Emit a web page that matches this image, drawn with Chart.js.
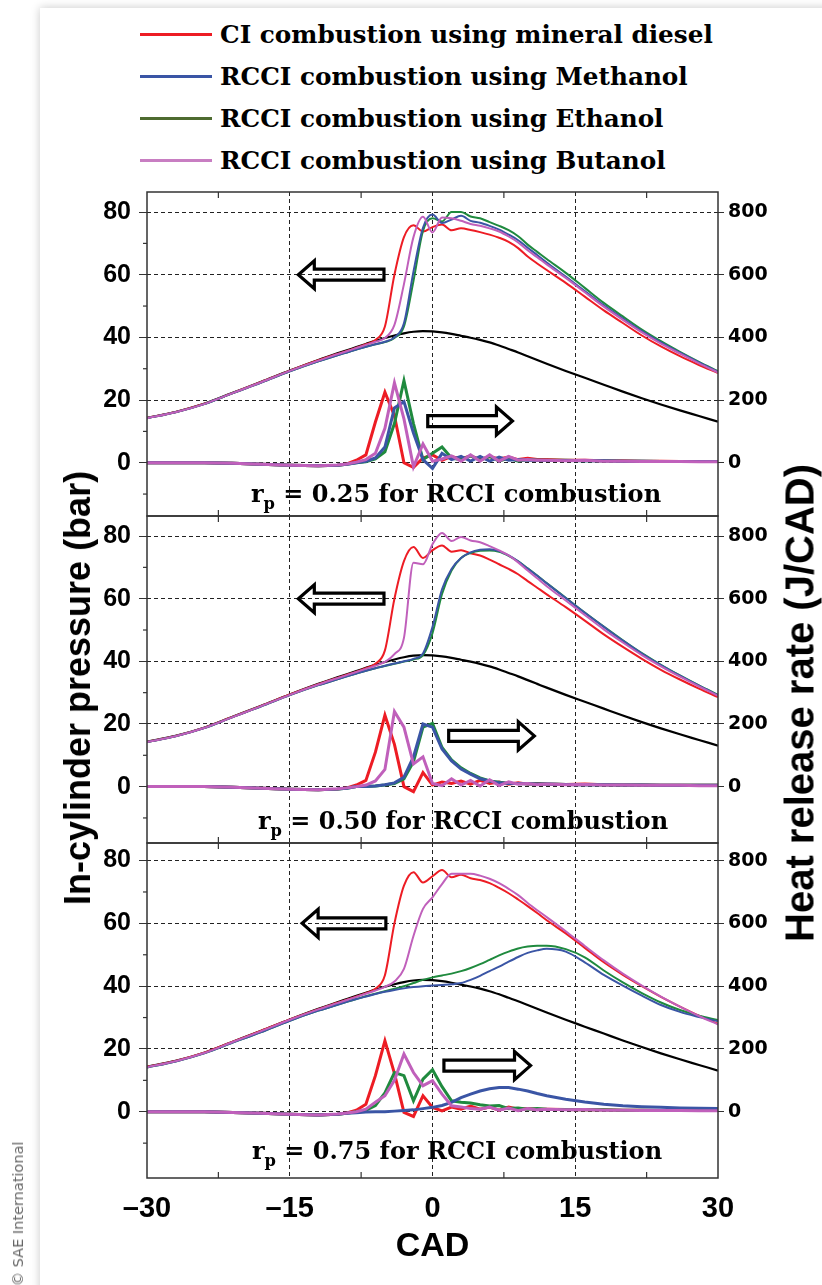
<!DOCTYPE html>
<html lang="en">
<head>
<meta charset="UTF-8">
<title>In-cylinder pressure and heat release rate</title>
<script src="https://cdn.jsdelivr.net/npm/chart.js@4.4.1/dist/chart.umd.min.js"></script>
<style>
  body { margin: 0; width: 822px; height: 1285px; position: relative; overflow: hidden; background: #fff; font-family: 'Liberation Sans', Arial, sans-serif; }
  .card { position: absolute; left: 40px; top: 8px; width: 820px; height: 1300px; background: #fff; box-shadow: 0 0 9px rgba(0,0,0,0.22); }
  .panel { position: absolute; left: 0; }
  .row { position: absolute; left: 140px; height: 40px; display: flex; align-items: center; }
  .swatch { width: 72px; height: 3px; margin-right: 8px; }
  .row span { font: bold 24.7px 'DejaVu Serif', serif; color: #000; white-space: nowrap; }
  .rp { position: absolute; width: 600px; text-align: center; font: bold 24px 'DejaVu Serif', serif; line-height: 24px; color: #000; white-space: nowrap; }
  .rp sub { font-size: 0.68em; vertical-align: -0.4em; }
  .ytitle { position: absolute; white-space: nowrap; font-weight: bold; color: #000; transform: translate(-50%, -50%) rotate(-90deg); }
  .copy { position: absolute; left: 18px; top: 1214px; white-space: nowrap; font: 14.5px 'DejaVu Sans', sans-serif; color: #666; transform: translate(-50%, -50%) rotate(-90deg); }
</style>
</head>
<body>
<div class="card"></div>
<div id="legend"></div>

<div class="panel" style="top:186px"><canvas id="p1" width="822" height="336"></canvas></div>
<div class="panel" style="top:510px"><canvas id="p2" width="822" height="339"></canvas></div>
<div class="panel" style="top:837px"><canvas id="p3" width="822" height="448"></canvas></div>

<div class="rp" style="left:156px; top:482px">r<sub>p</sub> = 0.25 for RCCI combustion</div>
<div class="rp" style="left:163px; top:809px">r<sub>p</sub> = 0.50 for RCCI combustion</div>
<div class="rp" style="left:157px; top:1139px">r<sub>p</sub> = 0.75 for RCCI combustion</div>

<div class="ytitle" style="left:78px; top:688px; font-size:36px">In-cylinder pressure (bar)</div>
<div class="ytitle" style="left:800px; top:703px; font-size:40px">Heat release rate (J/CAD)</div>
<div class="copy">© SAE International</div>

<script>
// crank angle (CAD) sample points
const cad = [-30,-27,-24,-21,-18,-15,-12,-10,-9,-8,-7,-6,-5,-4,-3,-2,-1,0,1,2,3,4,5,6,7,8,9,10,11,12,14,16,18,20,22,24,26,28,30];

// motoring pressure (bar), same in all panels
const motoring = [14.3,16.2,18.8,22.3,25.8,29.4,32.8,34.9,35.9,36.9,37.9,38.9,39.8,40.6,41.3,41.8,42.0,41.9,41.6,41.1,40.5,39.9,39.2,38.4,37.4,36.3,35.2,34.0,32.8,31.6,29.3,27.1,24.9,22.7,20.6,18.6,16.7,14.9,13.1];

// rp = 0.25 : pressure (bar)
const dieselP1 = [14.3,16.2,18.8,22.3,25.8,29.4,32.7,34.7,35.7,36.7,37.8,39.2,43.5,60.0,72.0,75.8,73.8,75.2,76.0,74.2,74.8,74.3,73.6,72.8,71.8,70.5,68.5,65.8,63.6,61.5,57.4,53.0,48.6,44.6,40.6,37.1,34.0,31.2,28.6];
const methP1 = [14.2,16.1,18.7,22.2,25.6,29.2,32.4,34.3,35.2,36.1,37.0,37.8,38.6,40.0,44.5,61.0,75.0,79.2,76.5,77.6,78.8,77.2,76.6,75.6,74.4,72.8,71.0,68.6,66.3,63.9,59.4,54.8,50.2,46.0,42.0,38.4,35.1,32.0,29.0];
const ethP1 = [14.2,16.1,18.7,22.2,25.6,29.2,32.4,34.3,35.2,36.1,37.0,37.8,38.5,39.8,43.5,58.0,74.0,78.0,77.0,80.0,80.0,78.6,78.0,76.8,75.6,74.2,72.3,69.6,67.3,65.0,60.6,55.8,51.0,46.7,42.5,38.8,35.4,32.2,29.2];
const butP1 = [14.2,16.1,18.7,22.2,25.7,29.3,32.6,34.6,35.6,36.6,37.6,38.6,39.8,44.0,57.0,72.0,78.5,73.5,78.3,78.0,77.2,76.2,75.6,74.8,73.8,72.2,70.3,67.8,65.6,63.3,59.0,54.4,49.8,45.6,41.6,38.0,34.8,31.7,28.8];
// rp = 0.25 : heat release rate (J/CAD)
const dieselH1 = [0,0,0,-2,-5,-8,-10,-8,-4,8,25,130,225,150,0,-15,15,25,8,20,12,22,10,20,12,18,10,14,10,10,8,8,6,6,5,5,4,4,4];
const methH1 = [0,0,0,-2,-5,-8,-10,-8,-5,0,5,15,50,175,195,95,10,-18,30,10,20,5,20,5,18,8,10,8,8,7,7,6,6,5,5,4,4,4,4];
const ethH1 = [0,0,0,-2,-5,-8,-10,-8,-5,0,3,12,35,125,262,125,10,30,50,15,10,22,8,20,5,15,5,10,8,8,8,6,6,5,5,4,4,4,4];
const butH1 = [0,0,0,-2,-5,-8,-10,-7,-4,2,10,30,110,255,140,-13,60,5,12,22,5,25,5,25,5,20,8,10,8,8,6,8,5,5,4,4,4,3,3];

// rp = 0.50
const dieselP2 = [14.3,16.2,18.8,22.3,25.8,29.4,32.7,34.7,35.7,36.7,37.8,39.2,43.5,60.0,72.0,76.5,73.0,75.5,77.0,75.0,75.5,74.5,73.8,72.5,71.0,69.5,67.8,65.6,63.5,61.4,57.3,53.0,48.6,44.6,40.8,37.3,34.2,31.3,28.6];
const methP2 = [14.2,16.1,18.7,22.2,25.6,29.2,32.4,34.3,35.2,36.1,37.0,37.8,38.6,39.3,40.0,40.8,42.5,51.0,63.0,69.5,73.0,74.8,75.6,75.8,75.2,73.8,71.9,69.6,67.3,64.9,60.2,55.5,51.0,46.6,42.5,38.8,35.4,32.2,29.2];
const ethP2 = [14.2,16.1,18.7,22.2,25.6,29.2,32.4,34.3,35.2,36.1,37.0,37.8,38.5,39.2,39.9,40.6,42.0,49.0,61.5,69.0,73.0,74.6,75.3,75.4,75.0,73.7,71.9,69.7,67.4,65.0,60.3,55.6,51.1,46.7,42.6,38.9,35.5,32.3,29.3];
const butP2 = [14.2,16.1,18.7,22.2,25.7,29.3,32.6,34.6,35.6,36.6,37.6,38.6,39.8,42.3,47.5,71.5,71.0,77.4,81.0,78.4,79.7,78.6,78.0,76.8,75.4,73.8,71.6,69.0,66.5,64.0,59.4,54.8,50.2,46.0,42.0,38.4,35.1,32.0,29.0];
const dieselH2 = [0,0,0,-2,-5,-8,-10,-8,-4,5,20,110,228,135,0,-16,45,5,15,10,18,8,20,10,15,8,12,8,10,8,7,8,6,5,5,4,4,4,4];
const methH2 = [0,0,0,-2,-5,-8,-10,-8,-5,0,0,2,6,12,30,95,200,190,120,82,56,40,25,18,12,10,10,9,8,8,7,6,6,5,5,4,4,4,4];
const ethH2 = [0,0,0,-2,-5,-8,-10,-8,-5,0,0,2,5,10,25,80,190,202,125,85,60,42,28,18,14,10,10,9,8,8,7,6,6,5,5,4,4,4,4];
const butH2 = [0,0,0,-2,-5,-8,-10,-7,-4,0,5,18,55,240,190,72,95,10,3,25,5,20,2,22,3,15,8,10,6,8,6,7,5,5,4,4,4,3,3];

// rp = 0.75
const dieselP3 = [14.3,16.2,18.8,22.3,25.8,29.4,32.7,34.7,35.7,36.7,37.8,39.2,43.5,60.0,72.0,76.3,73.0,75.0,77.0,74.7,75.5,74.4,73.8,72.8,71.3,69.6,67.6,65.5,63.3,61.0,56.8,52.2,47.6,43.6,40.0,36.6,33.5,30.6,28.0];
const methP3 = [14.1,16.0,18.6,22.0,25.4,29.0,32.2,34.1,35.0,35.9,36.7,37.5,38.2,38.8,39.3,39.7,40.0,40.2,40.4,40.6,41.0,42.0,43.3,44.8,46.2,47.8,49.3,50.6,51.4,51.9,51.0,47.6,43.6,40.2,37.0,34.0,31.8,30.2,28.8];
const ethP3 = [14.1,16.0,18.6,22.0,25.4,29.0,32.2,34.1,35.0,35.9,36.8,37.6,38.4,39.2,40.0,41.0,42.0,42.8,43.4,44.0,44.8,45.8,47.0,48.4,49.8,51.0,52.0,52.6,52.9,52.9,51.8,49.2,45.0,41.2,37.8,34.8,32.4,30.6,29.2];
const butP3 = [14.2,16.1,18.7,22.2,25.7,29.3,32.6,34.6,35.6,36.6,37.6,38.6,39.8,41.5,45.5,56.0,64.6,68.3,72.5,75.8,75.8,75.8,75.2,74.2,72.8,71.0,69.0,66.5,64.2,62.0,57.5,52.8,48.2,44.0,40.2,36.7,33.5,30.5,27.8];
const dieselH3 = [0,0,0,-2,-5,-8,-10,-8,-4,5,24,115,226,122,-2,-15,51,14,3,15,8,18,8,15,5,15,8,10,8,8,7,6,6,5,5,4,4,4,4];
const methH3 = [0,0,0,-2,-5,-8,-10,-8,-5,-3,-1,0,0,2,4,6,10,14,20,30,45,56,66,73,77,77,72,66,58,51,40,31,24,19,16,14,12,11,10];
const ethH3 = [0,0,0,-2,-5,-8,-10,-8,-5,0,5,20,60,125,115,35,104,134,80,35,30,28,22,18,20,10,12,8,10,8,7,6,6,5,5,4,4,4,4];
const butH3 = [0,0,0,-2,-5,-8,-10,-7,-4,0,8,30,51,100,184,125,83,99,56,19,15,10,8,15,5,12,3,10,6,8,6,7,5,5,4,4,4,3,3];

const fuels = ['CI combustion using mineral diesel', 'RCCI combustion using Methanol', 'RCCI combustion using Ethanol', 'RCCI combustion using Butanol'];
const cadTicks = [-30, -15, 0, 15, 30];
const cadMinor = [-22.5, -7.5, 7.5, 22.5];
const pressureTicks = [0, 20, 40, 60, 80];
const pressureMinor = [-10, 10, 30, 50, 70];
const hrrTicks = [0, 200, 400, 600, 800];

const lineColors = ['#ed1c24', '#3a55a5', '#1f8a3e', '#c060bb'];
const legendColors = ['#ed1c24', '#3a55a5', '#4e6b30', '#c87ec2'];

// legend (html)
const legendEl = document.getElementById('legend');
[34, 76, 118, 160].forEach((cy, i) => {
  const row = document.createElement('div');
  row.className = 'row';
  row.style.top = (cy - 20) + 'px';
  row.innerHTML = '<div class="swatch" style="background:' + legendColors[i] + '"></div><span>' + fuels[i] + '</span>';
  legendEl.appendChild(row);
});

const pts = vals => cad.map((x, i) => ({x: x, y: vals[i]}));

// frame, minor ticks and the hollow arrows
const decor = {
  id: 'decor',
  afterDatasetsDraw(chart, args, opts) {
    const {ctx, chartArea: a} = chart;
    const x = chart.scales.x, y = chart.scales.y;
    const seg = (x1, y1, x2, y2) => { ctx.beginPath(); ctx.moveTo(x1, y1); ctx.lineTo(x2, y2); ctx.stroke(); };
    ctx.save();
    ctx.strokeStyle = '#333';
    ctx.lineWidth = 1.2;
    cadMinor.forEach(v => {
      const px = x.getPixelForValue(v);
      seg(px, a.top, px, a.top + 6);
      seg(px, a.bottom - 6, px, a.bottom);
    });
    pressureMinor.forEach(v => {
      if (v <= y.min || v >= y.max) return;
      const py = y.getPixelForValue(v);
      seg(a.left - 4, py, a.left, py);
    });
    ctx.lineWidth = 1.5;
    ctx.strokeRect(a.left, a.top, a.right - a.left, a.bottom - a.top);

    ctx.strokeStyle = '#000';
    ctx.lineWidth = 3.2;
    ctx.lineJoin = 'miter';
    (opts.arrows || []).forEach(([from, to, val]) => {
      const x1 = x.getPixelForValue(from), x2 = x.getPixelForValue(to), py = y.getPixelForValue(val);
      const d = Math.sign(x2 - x1), hx = x2 - d * 16;
      ctx.beginPath();
      ctx.moveTo(x1, py - 5.5);
      ctx.lineTo(hx, py - 5.5);
      ctx.lineTo(hx, py - 14);
      ctx.lineTo(x2, py);
      ctx.lineTo(hx, py + 14);
      ctx.lineTo(hx, py + 5.5);
      ctx.lineTo(x1, py + 5.5);
      ctx.closePath();
      ctx.stroke();
    });
    ctx.restore();
  }
};

// keep the plot area where we put it: no extra room for half tick labels
const noPad = s => { s.paddingTop = 0; s.paddingBottom = 0; s.paddingLeft = 0; s.paddingRight = 0; };

function makePanel(id, pressure, hrr, cfg) {
  const datasets = [];
  const drawOrder = [3, 1, 2, 0];
  drawOrder.forEach(k => datasets.push({
    data: pts(hrr[k]), borderColor: lineColors[k], borderWidth: 3, yAxisID: 'y1', tension: 0
  }));
  drawOrder.forEach(k => datasets.push({
    data: pts(pressure[k]), borderColor: lineColors[k], borderWidth: 2, yAxisID: 'y', cubicInterpolationMode: 'monotone'
  }));
  datasets.push({data: pts(motoring), borderColor: '#000', borderWidth: 2.2, yAxisID: 'y', cubicInterpolationMode: 'monotone'});

  const last = !!cfg.last;
  const canvasH = document.getElementById(id).height;
  return new Chart(document.getElementById(id), {
    type: 'line',
    data: {datasets},
    options: {
      responsive: false,
      animation: false,
      devicePixelRatio: 1,
      layout: {padding: {top: 6, bottom: last ? 0 : 6, left: 0, right: 0}},
      elements: {point: {radius: 0}},
      plugins: {legend: {display: false}, tooltip: {enabled: false}, decor: {arrows: cfg.arrows}},
      scales: {
        x: {
          type: 'linear', min: -30, max: 30,
          afterBuildTicks: s => { s.ticks = cadTicks.map(v => ({value: v})); },
          afterFit: s => { s.height = last ? canvasH - 6 - cfg.areaH : 0; noPad(s); },
          grid: {color: c => (c.tick && Math.abs(c.tick.value) < 30) ? '#222' : 'rgba(0,0,0,0)', lineWidth: 1, drawTicks: false},
          border: {display: false, dash: [4, 3]},
          ticks: {
            display: last, color: '#000', padding: 14,
            font: {family: 'Liberation Sans', size: 29, weight: 'bold'},
            callback: v => v < 0 ? '\u2013' + (-v) : String(v)
          },
          title: {
            display: last, text: 'CAD', color: '#000',
            font: {family: 'Liberation Sans', size: 34, weight: 'bold'},
            padding: {top: 0, bottom: 18}
          }
        },
        y: {
          position: 'left', min: cfg.min, max: cfg.max,
          afterBuildTicks: s => { s.ticks = pressureTicks.map(v => ({value: v})); },
          afterFit: s => { s.width = 147; noPad(s); },
          grid: {color: '#222', lineWidth: 1, drawTicks: true, tickLength: 8, tickColor: '#333'},
          border: {display: false, dash: [4, 3]},
          ticks: {color: '#000', padding: 8, font: {family: 'Liberation Sans', size: 25, weight: 'bold'}}
        },
        y1: {
          position: 'right', min: cfg.min * 10, max: cfg.max * 10,
          afterBuildTicks: s => { s.ticks = hrrTicks.map(v => ({value: v})); },
          afterFit: s => { s.width = 104; noPad(s); },
          grid: {drawOnChartArea: false, drawTicks: true, tickLength: 6, tickColor: '#333'},
          border: {display: false},
          ticks: {color: '#000', padding: 4, font: {family: 'DejaVu Sans', size: 19, weight: 'bold'}}
        }
      }
    },
    plugins: [decor]
  });
}

makePanel('p1', [dieselP1, methP1, ethP1, butP1], [dieselH1, methH1, ethH1, butH1],
  {min: -17.0, max: 86.4, areaH: 324, arrows: [[-5.1, -14.1, 60], [-0.5, 8.4, 13.3]]});
makePanel('p2', [dieselP2, methP2, ethP2, butP2], [dieselH2, methH2, ethH2, butH2],
  {min: -18.0, max: 86.4, areaH: 327, arrows: [[-5.1, -14.1, 60], [1.7, 10.7, 16.2]]});
makePanel('p3', [dieselP3, methP3, ethP3, butP3], [dieselH3, methH3, ethH3, butH3],
  {min: -21.1, max: 85.6, areaH: 335, last: true, arrows: [[-4.9, -13.7, 60], [1.2, 10.3, 14.7]]});
</script>
</body>
</html>
